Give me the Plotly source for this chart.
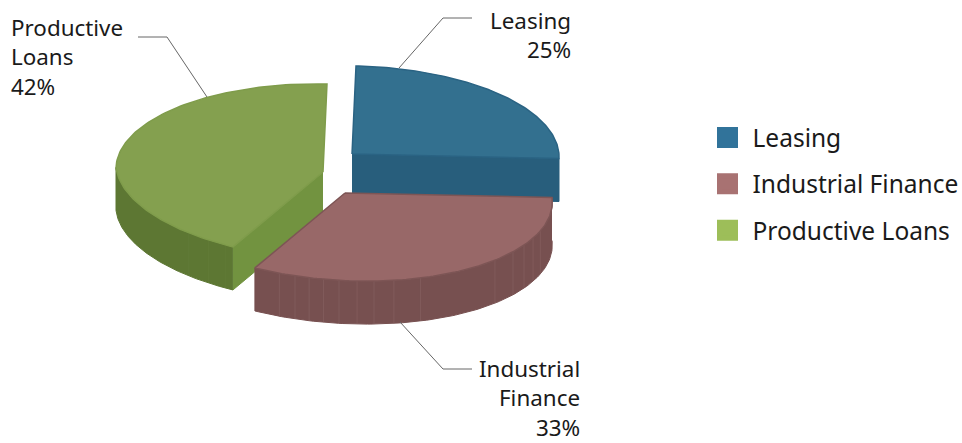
import numpy as np
import plotly.graph_objects as go

# --- data ---
categories = ["Leasing", "Industrial Finance", "Productive Loans"]
shares = [25, 33, 42]
label_lines = [["Leasing", "25%"], ["Industrial", "Finance", "33%"], ["Productive", "Loans", "42%"]]

# --- styles ---
top_colors = ["#33708F", "#986868", "#84A04F"]
side_colors = ["#285E7C", "#775050", "#5D7733"]
cut_colors = ["#285E7C", "#775050", "#729340"]
edge_colors = ["#2A6383", "#7D5555", "#7F9C4B"]
legend_colors = ["#31739A", "#A87272", "#9DBE59"]
facet_colors = ["#3A6F8C", "#856060", "#637D39"]
facet_deg = [[], [112.6, 117.9, 123.3, 128.9, 136.7, 161.7, 169.4, 175, 179.7, 184.7, 189, 193, 197, 201.5],
             [211, 216.6, 223.4]]
apex = [(352, 154), (345, 193), (323, 172)]   # exploded centre of each slice
Rx, Ry = 207, 4.5
Ux_back, Ux_front, Uy = 4, -11, -88
depth = 43
FONT = "Noto Sans"
TXT = "#1a1a1a"


def rim(c, deg):
    t = np.radians(np.asarray(deg, dtype=float))
    ux = np.where(np.cos(t) > 0, Ux_back, Ux_front)
    return c[0] + np.sin(t) * Rx + np.cos(t) * ux, c[1] + np.sin(t) * Ry + np.cos(t) * Uy


def poly(fig, x, y, fill, line=None, width=1):
    fig.add_trace(go.Scatter(x=list(x), y=list(y), mode="lines", fill="toself", fillcolor=fill,
                             line=dict(color=line or fill, width=width), showlegend=False, hoverinfo="skip"))


fig = go.Figure()
bounds = np.cumsum([0] + shares) * 3.6

def draw_slice(i):
    a, b = bounds[i], bounds[i + 1]
    c = apex[i]
    arc = np.linspace(a, b, 120)
    ax, ay = rim(c, arc)
    # flat cut faces
    for ang in (a, b):
        ex, ey = rim(c, [ang])
        if (i == 0 and ang == b) or (i == 2 and ang == a):
            poly(fig, [c[0], ex[0], ex[0], c[0]], [c[1], ey[0], ey[0] + depth, c[1] + depth], cut_colors[i])
    # outer wall: only the part facing the viewer
    vis = np.linspace(max(a, 90), min(b, 270), 120)
    if vis[-1] > vis[0]:
        vx, vy = rim(c, vis)
        poly(fig, np.r_[vx, vx[::-1]], np.r_[vy, vy[::-1] + depth], side_colors[i])
        fx, fy = [], []
        for d in facet_deg[i]:
            px, py = rim(c, [d])
            fx += [px[0], px[0], None]
            fy += [py[0], py[0] + depth, None]
        if fx:
            fig.add_trace(go.Scatter(x=fx, y=fy, mode="lines", line=dict(color=facet_colors[i], width=0.7),
                                     showlegend=False, hoverinfo="skip"))
    # top face
    poly(fig, np.r_[c[0], ax, c[0]], np.r_[c[1], ay, c[1]], top_colors[i], edge_colors[i], 1.5)


for i in (0, 2, 1):
    draw_slice(i)

# --- leader lines ---
leader_x = [[399, 443, 472], [400, 443, 472], [207, 167, 138]]
leader_y = [[68, 18, 18], [322, 369, 369], [97, 37, 37]]
for lx, ly in zip(leader_x, leader_y):
    fig.add_trace(go.Scatter(x=lx, y=ly, mode="lines", line=dict(color="#666666", width=1),
                             showlegend=False, hoverinfo="skip"))

# --- data labels ---
label_x = [573, 582, 9]
label_y = [20, 368, 27]
label_anchor = ["right", "right", "left"]
for lines, x, y, anc in zip(label_lines, label_x, label_y, label_anchor):
    for k, s in enumerate(lines):
        fig.add_annotation(x=x, y=y + k * 29.5, text=s, showarrow=False, xanchor=anc, yanchor="middle",
                           font=dict(family=FONT, size=22.4, color=TXT))

# --- legend ---
for name, col in zip(categories, legend_colors):
    fig.add_trace(go.Scatter(x=[None], y=[None], mode="markers", name=name, legendgroup=name,
                             marker=dict(symbol="square", size=16, color=col, line=dict(color=col, width=5))))

fig.update_layout(
    width=962, height=443, margin=dict(l=0, r=0, t=0, b=0, autoexpand=False),
    paper_bgcolor="white", plot_bgcolor="white",
    xaxis=dict(range=[0, 962], visible=False, fixedrange=True),
    yaxis=dict(range=[443, 0], visible=False, fixedrange=True),
    hovermode=False,
    legend=dict(x=702.5 / 962, y=(443 - 115) / 443, xanchor="left", yanchor="top", itemwidth=40,
                font=dict(family=FONT, size=24.5, color=TXT), tracegroupgap=11.5,
                bgcolor="rgba(0,0,0,0)"),
)
fig.write_html("out.html", config={"displayModeBar": False},
               post_script="document.body.style.margin='0';")
